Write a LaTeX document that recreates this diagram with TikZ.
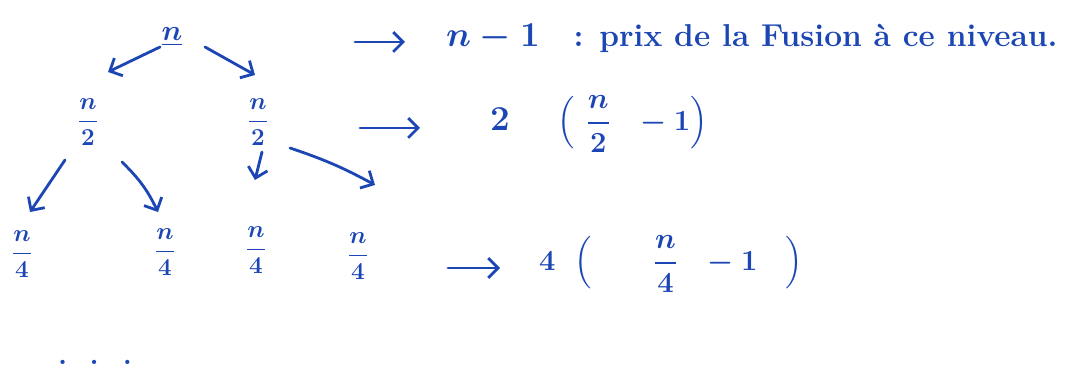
\documentclass[tikz,border=0pt]{standalone}
\usepackage{amsmath}
\usetikzlibrary{arrows.meta}
\definecolor{ink}{RGB}{28,70,180}
\begin{document}
\begin{tikzpicture}[x=0.025cm, y=-0.025cm, line width=2pt, draw=ink, line cap=round,
  every node/.append style={text=ink, font=\huge\boldmath},
  frac/.style={font=\LARGE\boldmath},
  arr/.style={-{Straight Barb[length=7pt,width=14pt]}}]
  \useasboundingbox (0,0) rectangle (1080,372);
  % the tree
  \node (root) at (172,37) {$\underline{n}$};
  \node[frac] (l) at (88,122) {$\dfrac{n}{2}$};
  \node[frac] (r) at (258,122) {$\dfrac{n}{2}$};
  \node[frac] (ll) at (22,254) {$\dfrac{n}{4}$};
  \node[frac] (lr) at (165,252) {$\dfrac{n}{4}$};
  \node[frac] (rl) at (256,250) {$\dfrac{n}{4}$};
  \node[frac] (rr) at (358,256) {$\dfrac{n}{4}$};
  \node[font=\huge\bfseries] (dots) at (95,362) {.\hspace{16pt}.\hspace{17pt}.};
  \draw[arr] ([shift={(-12,10)}]root.center) -- ([shift={(20,-50)}]l.center);
  \draw[arr] ([shift={(33,10)}]root.center) -- ([shift={(-3,-47)}]r.center);
  \draw[arr] ([shift={(-23,38)}]l.center) -- ([shift={(8,-42)}]ll.center);
  \draw[arr] ([shift={(34,40)}]l.center) to[bend left=10] ([shift={(-7,-40)}]lr.center);
  \draw[arr] ([shift={(4,30)}]r.center) -- ([shift={(-1,-70)}]rl.center);
  \draw[arr] ([shift={(32,26)}]r.center) to[bend left=5] ([shift={(17,-71)}]rr.center);
  % cost of each level
  \node[anchor=base west, font=\Huge\boldmath] (c1) at (440,47)
    {$n-1$\hspace{24pt}\fontsize{22.5}{27}\bfseries: prix de la Fusion à ce niveau.};
  \node[anchor=west] (c2) at (484,124)
    {{\Huge\bfseries 2}\hspace{34pt}$\Bigl(\hspace{8pt}\dfrac{n}{2}\hspace{16pt}-1\Bigr)$};
  \node[anchor=west] (c3) at (533,264)
    {$4\;\;\Bigl(\hspace{44pt}\dfrac{n}{4}\hspace{16pt}-1\hspace{20pt}\Bigr)$};
  \coordinate (a1) at (355,42);  \coordinate (b1) at (405,42);
  \coordinate (a2) at (360,128); \coordinate (b2) at (420,128);
  \coordinate (a3) at (448,268); \coordinate (b3) at (500,268);
  \draw[arr] (a1) -- (b1);
  \draw[arr] (a2) -- (b2);
  \draw[arr] (a3) -- (b3);
\end{tikzpicture}
\end{document}
